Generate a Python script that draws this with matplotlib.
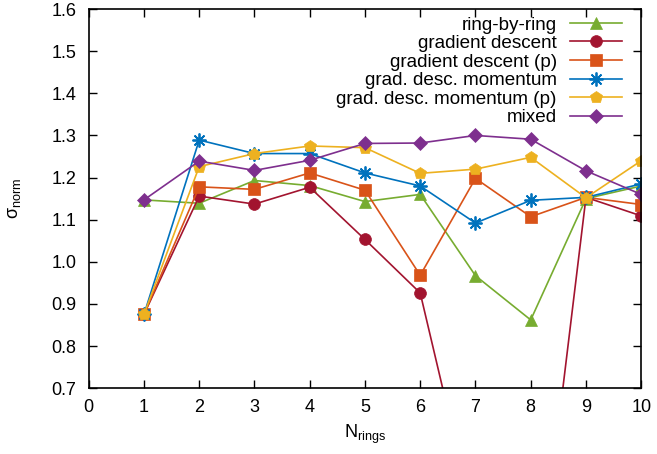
import numpy as np
import matplotlib
matplotlib.use("Agg")
import matplotlib.pyplot as plt

plt.rcParams['font.family'] = ['Liberation Sans', 'DejaVu Sans']
plt.rcParams['mathtext.fontset'] = 'custom'
plt.rcParams['mathtext.rm'] = 'Liberation Sans'
plt.rcParams['mathtext.it'] = 'Liberation Sans'
plt.rcParams['mathtext.default'] = 'regular'

n_rings = [1, 2, 3, 4, 5, 6, 7, 8, 9, 10]

ring_by_ring = [1.147, 1.139, 1.193, 1.181, 1.143, 1.160, 0.967, 0.862, 1.150, 1.180]
grad_desc = [0.875, 1.156, 1.137, 1.177, 1.053, 0.926, 0.37, 0.07, 1.153, 1.109]
grad_desc_p = [0.875, 1.178, 1.172, 1.211, 1.170, 0.968, 1.198, 1.107, 1.153, 1.136]
grad_mom = [0.875, 1.289, 1.257, 1.257, 1.211, 1.180, 1.092, 1.146, 1.153, 1.185]
grad_mom_p = [0.875, 1.226, 1.257, 1.275, 1.271, 1.210, 1.220, 1.248, 1.152, 1.240]
mixed = [1.147, 1.239, 1.217, 1.241, 1.281, 1.282, 1.300, 1.291, 1.216, 1.160]

series = [
    ("ring-by-ring", ring_by_ring, "#77ac30", "^", 8.5),
    ("gradient descent", grad_desc, "#a2142f", "o", 8.5),
    ("gradient descent (p)", grad_desc_p, "#d95319", "s", 8.5),
    ("grad. desc. momentum", grad_mom, "#0072bd", (8, 2, 0), 10),
    ("grad. desc. momentum (p)", grad_mom_p, "#edb120", "p", 9),
    ("mixed", mixed, "#7e2f8e", "D", 7),
]

fig = plt.figure(figsize=(6.57, 4.54), dpi=100)
ax = fig.add_axes([0.135, 0.145, 0.841, 0.835])

for label, vals, color, marker, ms in series:
    ax.plot(n_rings, vals, color=color, marker=marker, markersize=ms,
            linewidth=1.2, markeredgewidth=1.3 if marker == (8, 2, 0) else 0.5,
            markeredgecolor=color, label=label)

ax.set_xlim(0, 10)
ax.set_ylim(0.7, 1.6)
ax.set_xticks(range(0, 11))
ax.set_yticks(np.arange(0.7, 1.61, 0.1))
ax.set_yticklabels([f"{v:.1f}" for v in np.arange(0.7, 1.61, 0.1)])
ax.tick_params(direction='in', top=True, right=True, length=6, width=1,
               labelsize=13, pad=8)
ax.tick_params(axis='y', pad=9)
for s in ax.spines.values():
    s.set_linewidth(1.2)

ax.set_xlabel('N$_{rings}$', fontsize=13, labelpad=5)
ax.set_ylabel('σ$_{norm}$', fontsize=13, labelpad=20)

ax.legend(loc='upper right', bbox_to_anchor=(0.965, 0.981), frameon=False,
          markerfirst=False, fontsize=13.6, handlelength=2.75, handletextpad=0.7,
          labelspacing=0.07, borderaxespad=0, borderpad=0)

fig.savefig("out.png", dpi=100)
